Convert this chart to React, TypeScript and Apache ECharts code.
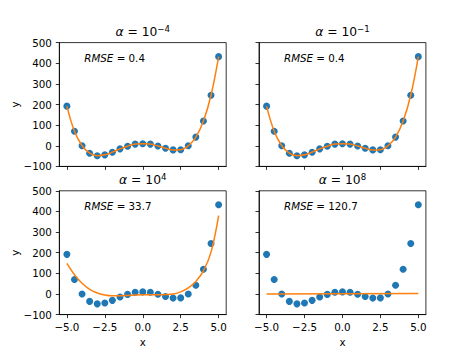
import React, { useEffect, useRef } from "react";
import * as echarts from "echarts";

const xs = [-5, -4.5, -4, -3.5, -3, -2.5, -2, -1.5, -1, -0.5, 0, 0.5, 1, 1.5, 2, 2.5, 3, 3.5, 4, 4.5, 5];
const observed = [192, 70, 0, -36, -48, -44, -31, -15, -2, 8, 10, 8, -1, -12, -20, -19, 0, 42, 120, 245, 432];

const fitAlphaNeg4 = [192, 70, 0, -36, -48, -44, -31, -15, -2, 8, 10, 8, -1, -12, -20, -19, 0, 42, 120, 245, 432];
const fitAlphaNeg1 = [192, 70, 0, -36, -48, -44, -31, -15, -2, 8, 10, 8, -1, -12, -20, -19, 0, 42, 120, 245, 432];
const fitAlpha4 = [148, 93, 52, 22, 5, -5, -9, -9, -7, -5, -4, -4, -4, -3, 0, 10, 29, 61, 112, 203, 380];
const fitAlpha8X = [-5, 0, 5];
const fitAlpha8 = [0, 1, 2];

const titles = [
  { exp: "−4" },
  { exp: "−1" },
  { exp: "4" },
  { exp: "8" },
];
const rmseLabels = ["0.4", "0.4", "33.7", "120.7"];
const xTicks = [-5, -2.5, 0, 2.5, 5];

const FONT = "DejaVu Sans";

export default function App() {
  const ref = useRef<HTMLDivElement>(null);
  useEffect(() => {
    if (!ref.current) return;
    const chart = echarts.init(ref.current, null, { renderer: "svg" });
    const lefts = [59.3, 259, 59.3, 259];
    const tops = [42.6, 42.6, 190.8, 190.8];
    const W = 166.9;
    const H = 123.8;
    const grids = lefts.map((l, i) => ({
      left: l,
      top: tops[i],
      width: W,
      height: H,
      show: true,
      borderColor: "#000",
      borderWidth: 0.8,
      backgroundColor: "#fff",
    }));
    const minus = (s: string) => s.replace("-", "−");
    const xAxes = grids.map((_, i) => ({
      type: "value",
      gridIndex: i,
      min: -5.5,
      max: 5.5,
      axisLine: { show: true, onZero: false, lineStyle: { color: "#000", width: 0.8 } },
      axisTick: {
        show: true,
        length: 3.5,
        customValues: xTicks,
        lineStyle: { color: "#000", width: 0.8 },
      },
      axisLabel: {
        show: i >= 2,
        customValues: xTicks,
        formatter: (v: number) => minus(v.toFixed(1)),
        fontSize: 10.3,
        fontFamily: FONT,
        color: "#000",
        margin: 7,
      },
      splitLine: { show: false },
      name: i >= 2 ? "x" : "",
      nameLocation: "middle",
      nameGap: 22,
      nameTextStyle: { fontSize: 10.3, fontFamily: FONT, color: "#000" },
    }));
    const yAxes = grids.map((_, i) => ({
      type: "value",
      gridIndex: i,
      min: -100,
      max: 500,
      interval: 100,
      axisLine: { show: true, onZero: false, lineStyle: { color: "#000", width: 0.8 } },
      axisTick: { show: true, length: 3.5, lineStyle: { color: "#000", width: 0.8 } },
      axisLabel: {
        show: i % 2 === 0,
        formatter: (v: number) => minus(String(v)),
        fontSize: 10.3,
        fontFamily: FONT,
        color: "#000",
        margin: 7.5,
      },
      splitLine: { show: false },
      name: i % 2 === 0 ? "y" : "",
      nameLocation: "middle",
      nameGap: 33,
      nameTextStyle: { fontSize: 10.3, fontFamily: FONT, color: "#000" },
    }));
    const fits = [
      xs.map((x, j) => [x, fitAlphaNeg4[j]]),
      xs.map((x, j) => [x, fitAlphaNeg1[j]]),
      xs.map((x, j) => [x, fitAlpha4[j]]),
      fitAlpha8X.map((x, j) => [x, fitAlpha8[j]]),
    ];
    const series: any[] = [];
    grids.forEach((_, i) => {
      series.push({
        type: "scatter",
        xAxisIndex: i,
        yAxisIndex: i,
        data: xs.map((x, j) => [x, observed[j]]),
        symbolSize: 7,
        itemStyle: { color: "#1f77b4", opacity: 1 },
        z: 2,
      });
      series.push({
        type: "line",
        xAxisIndex: i,
        yAxisIndex: i,
        data: fits[i],
        smooth: i === 3 ? false : 0.4,
        showSymbol: false,
        lineStyle: { color: "#ff7f0e", width: 1.5 },
        z: 3,
      });
    });
    const graphics: any[] = [];
    grids.forEach((_, i) => {
      graphics.push({
        type: "text",
        x: lefts[i] + W / 2,
        y: tops[i] - 2.5,
        style: {
          text: "{i|α} = 10{s|" + titles[i].exp + "}",
          fontSize: 12.3,
          fontFamily: FONT,
          fill: "#000",
          align: "center",
          verticalAlign: "bottom",
          lineHeight: 16,
          rich: {
            i: { fontStyle: "italic", fontSize: 12.3, fontFamily: FONT, lineHeight: 16 },
            s: { fontSize: 8.6, fontFamily: FONT, lineHeight: 9, verticalAlign: "top" },
          },
        },
      });
      graphics.push({
        type: "text",
        x: lefts[i] + 25,
        y: tops[i] + 15,
        style: {
          text: "{i|RMSE} = " + rmseLabels[i],
          fontSize: 10.3,
          fontFamily: FONT,
          fill: "#000",
          align: "left",
          verticalAlign: "middle",
          rich: {
            i: { fontStyle: "italic", fontSize: 10.3, fontFamily: FONT },
          },
        },
      });
    });
    chart.setOption({
      animation: false,
      backgroundColor: "#fff",
      textStyle: { fontFamily: FONT },
      grid: grids,
      xAxis: xAxes,
      yAxis: yAxes,
      series,
      graphic: graphics,
    });
    return () => chart.dispose();
  }, []);
  return (
    <div
      ref={ref}
      style={{ position: "absolute", left: 0, top: 0, width: 474, height: 355 }}
    />
  );
}
